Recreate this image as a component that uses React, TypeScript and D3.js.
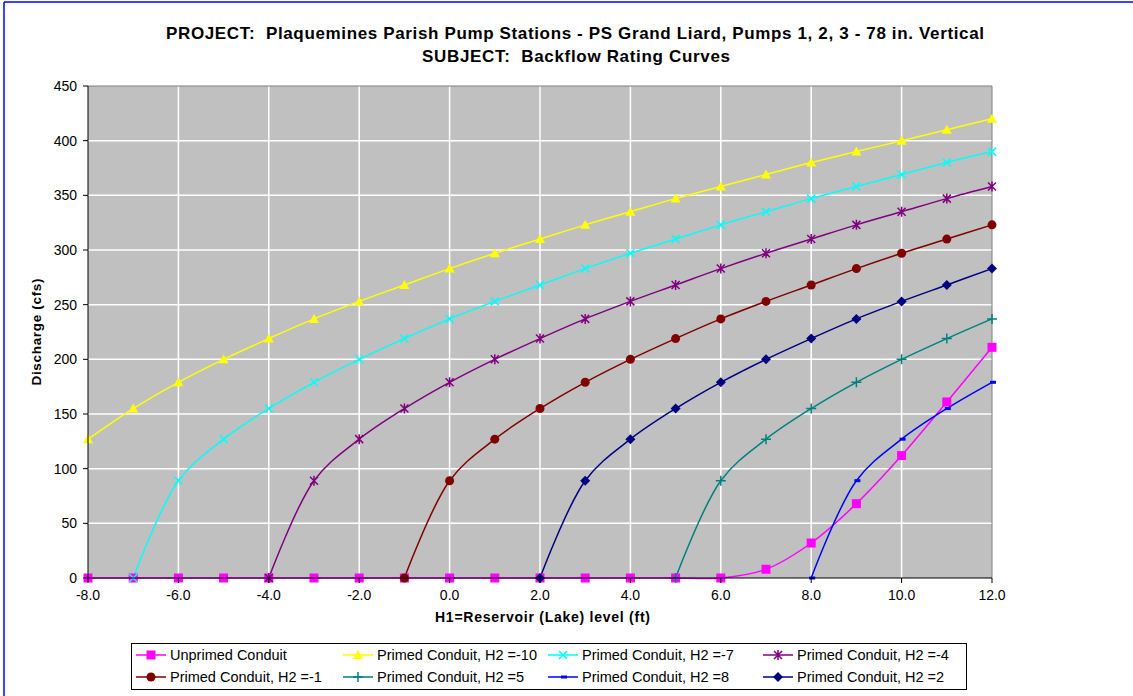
import React from "react";
import * as d3 from "d3";

const W = 1133;
const H = 696;

const xTicks = [-8, -6, -4, -2, 0, 2, 4, 6, 8, 10, 12];
const yTicks = [0, 50, 100, 150, 200, 250, 300, 350, 400, 450];

const unprimedX = [-8, -7, -6, -5, -4, -3, -2, -1, 0, 1, 2, 3, 4, 5, 6, 7, 8, 9, 10, 11, 12];
const unprimedY = [0, 0, 0, 0, 0, 0, 0, 0, 0, 0, 0, 0, 0, 0, 0, 8, 32, 68, 112, 161, 211];

const h2m10X = [-8, -7, -6, -5, -4, -3, -2, -1, 0, 1, 2, 3, 4, 5, 6, 7, 8, 9, 10, 11, 12];
const h2m10Y = [127, 155, 179, 200, 219, 237, 253, 268, 283, 297, 310, 323, 335, 347, 358, 369, 380, 390, 400, 410, 420];

const h2m7X = [-7, -6, -5, -4, -3, -2, -1, 0, 1, 2, 3, 4, 5, 6, 7, 8, 9, 10, 11, 12];
const h2m7Y = [0, 89, 127, 155, 179, 200, 219, 237, 253, 268, 283, 297, 310, 323, 335, 347, 358, 369, 380, 390];

const h2m4X = [-4, -3, -2, -1, 0, 1, 2, 3, 4, 5, 6, 7, 8, 9, 10, 11, 12];
const h2m4Y = [0, 89, 127, 155, 179, 200, 219, 237, 253, 268, 283, 297, 310, 323, 335, 347, 358];

const h2m1X = [-1, 0, 1, 2, 3, 4, 5, 6, 7, 8, 9, 10, 11, 12];
const h2m1Y = [0, 89, 127, 155, 179, 200, 219, 237, 253, 268, 283, 297, 310, 323];

const h2p5X = [5, 6, 7, 8, 9, 10, 11, 12];
const h2p5Y = [0, 89, 127, 155, 179, 200, 219, 237];

const h2p8X = [8, 9, 10, 11, 12];
const h2p8Y = [0, 89, 127, 155, 179];

const h2p2X = [2, 3, 4, 5, 6, 7, 8, 9, 10, 11, 12];
const h2p2Y = [0, 89, 127, 155, 179, 200, 219, 237, 253, 268, 283];

type Marker = "square" | "triangle" | "x" | "star" | "circle" | "plus" | "dash" | "diamond";

const series: { name: string; xs: number[]; ys: number[]; color: string; marker: Marker }[] = [
  { name: "Unprimed Conduit", xs: unprimedX, ys: unprimedY, color: "#FF00FF", marker: "square" },
  { name: "Primed Conduit, H2 =-10", xs: h2m10X, ys: h2m10Y, color: "#FFFF00", marker: "triangle" },
  { name: "Primed Conduit, H2 =-7", xs: h2m7X, ys: h2m7Y, color: "#00FFFF", marker: "x" },
  { name: "Primed Conduit, H2 =-4", xs: h2m4X, ys: h2m4Y, color: "#800080", marker: "star" },
  { name: "Primed Conduit, H2 =-1", xs: h2m1X, ys: h2m1Y, color: "#800000", marker: "circle" },
  { name: "Primed Conduit, H2 =5", xs: h2p5X, ys: h2p5Y, color: "#008080", marker: "plus" },
  { name: "Primed Conduit, H2 =8", xs: h2p8X, ys: h2p8Y, color: "#0000FF", marker: "dash" },
  { name: "Primed Conduit, H2 =2", xs: h2p2X, ys: h2p2Y, color: "#000080", marker: "diamond" },
];

const legendCols = [136, 343, 548, 763];
const legendRows = [655, 677];

function MarkerShape({ type, color, cx, cy }: { type: Marker; color: string; cx: number; cy: number }) {
  const s = 4;
  switch (type) {
    case "square":
      return <rect x={cx - 4.5} y={cy - 4.5} width={9} height={9} fill={color} />;
    case "triangle":
      return <path d={`M${cx},${cy - 5} L${cx + 5},${cy + 4} L${cx - 5},${cy + 4} Z`} fill={color} />;
    case "x":
      return (
        <path d={`M${cx - s},${cy - s} L${cx + s},${cy + s} M${cx - s},${cy + s} L${cx + s},${cy - s}`} stroke={color} strokeWidth={1.5} fill="none" />
      );
    case "star":
      return (
        <path
          d={`M${cx - s},${cy - s} L${cx + s},${cy + s} M${cx - s},${cy + s} L${cx + s},${cy - s} M${cx},${cy - s - 1} L${cx},${cy + s + 1}`}
          stroke={color}
          strokeWidth={1.5}
          fill="none"
        />
      );
    case "circle":
      return <circle cx={cx} cy={cy} r={4.5} fill={color} />;
    case "plus":
      return <path d={`M${cx - s - 1},${cy} L${cx + s + 1},${cy} M${cx},${cy - s - 1} L${cx},${cy + s + 1}`} stroke={color} strokeWidth={1.5} fill="none" />;
    case "dash":
      return <rect x={cx - 2} y={cy - 1.5} width={6} height={3} fill={color} />;
    case "diamond":
      return <path d={`M${cx},${cy - 5} L${cx + 5},${cy} L${cx},${cy + 5} L${cx - 5},${cy} Z`} fill={color} />;
  }
  return null;
}

export default function App() {
  const left = 88, right = 992, top = 86, bottom = 578;
  const x = d3.scaleLinear().domain([-8, 12]).range([left, right]);
  const y = d3.scaleLinear().domain([0, 450]).range([bottom, top]);
  const line = d3
    .line<[number, number]>()
    .x((d) => x(d[0]))
    .y((d) => y(d[1]))
    .curve(d3.curveCatmullRom.alpha(0.5));

  const font = "'Liberation Sans', Arial, sans-serif";

  return (
    <svg width={W} height={H} style={{ position: "absolute", left: 0, top: 0, fontFamily: font }}>
      <rect x={0} y={0} width={W} height={H} fill="#fff" />
      <line x1={4} y1={2} x2={W} y2={2} stroke="#0000FF" strokeWidth={1.5} />
      <line x1={4} y1={2} x2={4} y2={H} stroke="#0000FF" strokeWidth={1.5} />

      <text x={575} y={39} textAnchor="middle" fontSize={17} fontWeight="bold" textLength={818} lengthAdjust="spacing" style={{ whiteSpace: "pre" }}>
        {"PROJECT:  Plaquemines Parish Pump Stations - PS Grand Liard, Pumps 1, 2, 3 - 78 in. Vertical"}
      </text>
      <text x={576} y={62} textAnchor="middle" fontSize={17} fontWeight="bold" textLength={308} lengthAdjust="spacing" style={{ whiteSpace: "pre" }}>
        {"SUBJECT:  Backflow Rating Curves"}
      </text>

      <rect x={left} y={top} width={right - left} height={bottom - top} fill="#C0C0C0" />
      {yTicks.filter((t) => t > 0 && t < 450).map((t) => (
        <line key={"gy" + t} x1={left} x2={right} y1={y(t)} y2={y(t)} stroke="#fff" strokeWidth={1.5} />
      ))}
      {xTicks.filter((t) => t > -8 && t < 12).map((t) => (
        <line key={"gx" + t} x1={x(t)} x2={x(t)} y1={top} y2={bottom} stroke="#fff" strokeWidth={1.5} />
      ))}
      <path d={`M${left},${top} L${right},${top} L${right},${bottom}`} stroke="#808080" fill="none" strokeWidth={1} />

      {series.map((s) => {
        const pts = s.xs.map((v, i) => [v, s.ys[i]] as [number, number]);
        return <path key={s.name} d={line(pts) || ""} stroke={s.color} strokeWidth={1.5} fill="none" />;
      })}
      {series.map((s) => (
        <g key={"m" + s.name}>
          {s.xs.map((v, i) => (
            <MarkerShape key={i} type={s.marker} color={s.color} cx={x(v)} cy={y(s.ys[i])} />
          ))}
        </g>
      ))}

      <line x1={left} x2={left} y1={top} y2={bottom} stroke="#000" strokeWidth={1} />
      <line x1={left} x2={right} y1={bottom} y2={bottom} stroke="#000" strokeWidth={1} />
      {yTicks.map((t) => (
        <g key={"yt" + t}>
          <line x1={left - 5} x2={left} y1={y(t)} y2={y(t)} stroke="#000" />
          <text x={77} y={y(t) + 5} textAnchor="end" fontSize={14}>
            {t}
          </text>
        </g>
      ))}
      {xTicks.map((t) => (
        <g key={"xt" + t}>
          <line x1={x(t)} x2={x(t)} y1={bottom} y2={bottom + 5} stroke="#000" />
          <text x={x(t)} y={600} textAnchor="middle" fontSize={14}>
            {t.toFixed(1)}
          </text>
        </g>
      ))}

      <text x={0} y={0} transform={`translate(41,${332}) rotate(-90)`} textAnchor="middle" fontSize={13.5} fontWeight="bold" textLength={107} lengthAdjust="spacing">
        Discharge (cfs)
      </text>
      <text x={542.5} y={622} textAnchor="middle" fontSize={14} fontWeight="bold" textLength={215} lengthAdjust="spacing">
        H1=Reservoir (Lake) level (ft)
      </text>

      <rect x={131.5} y={643.5} width={835} height={46} fill="#fff" stroke="#000" strokeWidth={1} />
      {series.map((s, i) => {
        const cx0 = legendCols[i % 4];
        const cy = legendRows[Math.floor(i / 4)];
        return (
          <g key={"lg" + s.name}>
            <line x1={cx0} x2={cx0 + 30} y1={cy} y2={cy} stroke={s.color} strokeWidth={1.5} />
            <MarkerShape type={s.marker} color={s.color} cx={cx0 + 15} cy={cy} />
            <text x={cx0 + 34} y={cy + 5} fontSize={14.5}>
              {s.name}
            </text>
          </g>
        );
      })}
    </svg>
  );
}
